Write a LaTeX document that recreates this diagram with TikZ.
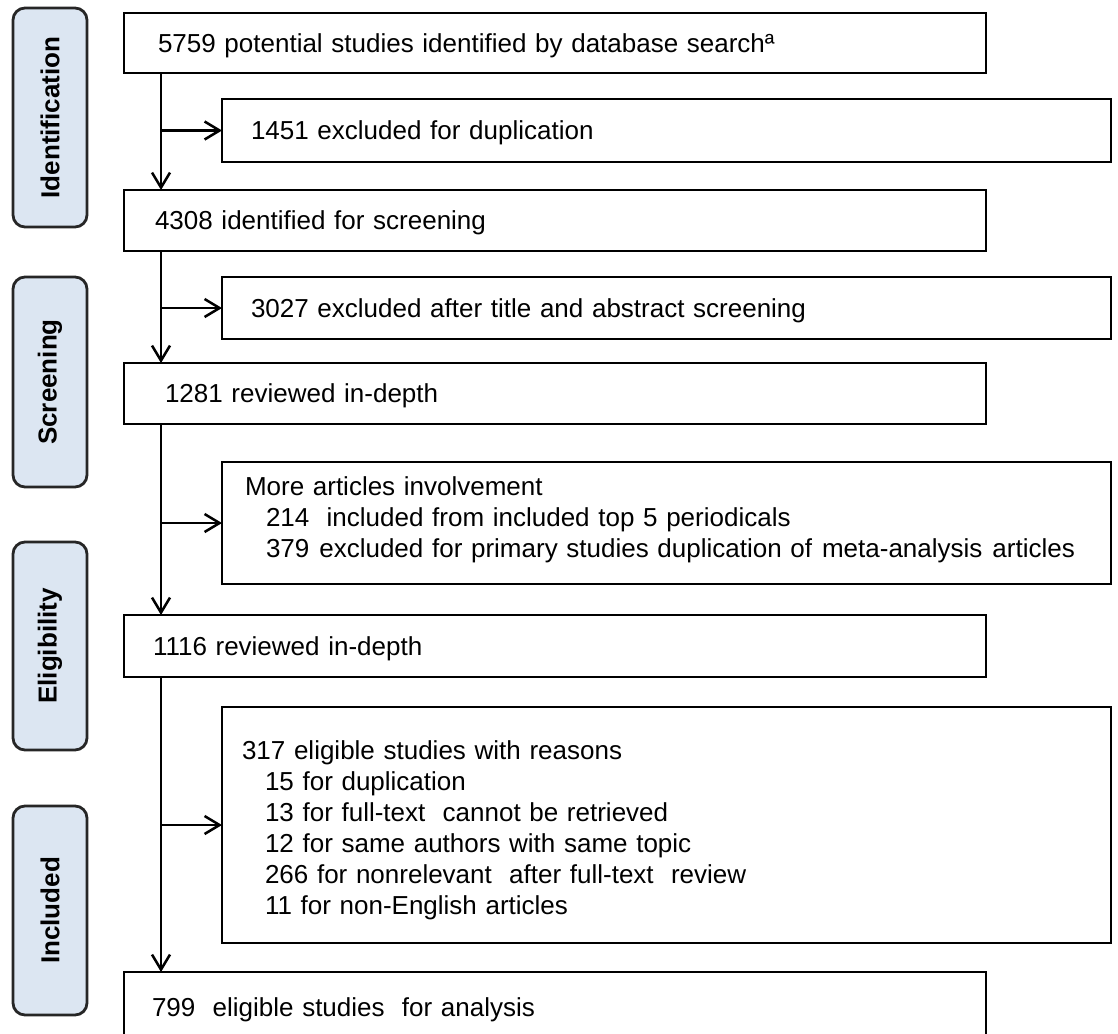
\documentclass[tikz,border=0pt]{standalone}
\usepackage{fontspec}
\setmainfont{Liberation Sans}
\usetikzlibrary{arrows.meta}
\definecolor{labfill}{HTML}{DCE6F2}
\definecolor{labdraw}{HTML}{262626}
\begin{document}
\begin{tikzpicture}[x=1pt,y=-1pt,
  box/.style={draw=black, line width=2.5pt, anchor=north west, outer sep=0pt,
    align=left, inner ysep=0pt, font=\fontsize{26}{31}\selectfont},
  one/.style={box, text height=24pt, text depth=5.4pt},
  lab/.style={draw=labdraw, fill=labfill, line width=2.8pt, rounded corners=12pt,
    rotate=90, minimum height=74pt, inner sep=0pt, outer sep=0pt,
    font=\fontsize{26}{31}\selectfont\bfseries},
  conn/.style={line width=2.5pt},
  arr/.style={conn, -{Straight Barb[length=15pt,width=18pt]}}
]
\useasboundingbox (0,0) rectangle (1118,1033);
% stage labels
\node[lab, minimum width=219pt] (L1) at (50,117.5) {Identification};
\node[lab, minimum width=210pt] (L2) at (50,382) {Screening};
\node[lab, minimum width=208pt] (L3) at (50,646) {Eligibility};
\node[lab, minimum width=209pt] (L4) at (50,910.5) {Included};
% main boxes
\node[one, inner xsep=34pt, text width=794pt, minimum height=60pt] (n1) at (124,13)
  {5759 potential studies identified by database searchª};
\node[one, inner xsep=31pt, text width=800pt, minimum height=61pt] (n2) at (124,190)
  {4308 identified for screening};
\node[one, inner xsep=41pt, text width=780pt, minimum height=61pt] (n3) at (124,363)
  {1281 reviewed in-depth};
\node[one, inner xsep=29pt, text width=804pt, minimum height=62pt] (n4) at (124,615)
  {1116 reviewed in-depth};
\node[one, inner xsep=28pt, text width=806pt, minimum height=70pt] (n5) at (124,972)
  {799\ \ eligible studies\ \ for analysis};
% side boxes
\node[one, inner xsep=29pt, text width=831pt, minimum height=63pt] (s1) at (222,99)
  {1451 excluded for duplication};
\node[one, inner xsep=29pt, text width=831pt, minimum height=62pt] (s2) at (222,277)
  {3027 excluded after title and abstract screening};
\node[box, inner xsep=23pt, text width=843pt, minimum height=122pt] (s3) at (222,462)
  {\mbox{More articles involvement}\\
   \mbox{\hspace*{21pt}214\ \ included from included top 5 periodicals}\\
   \mbox{\hspace*{21pt}379\hspace{10pt}excluded for primary studies duplication of\hspace{10pt}meta-analysis\hspace{10pt}articles}\rule[-12pt]{0pt}{12pt}};
\node[box, inner xsep=20pt, text width=849pt, minimum height=236pt] (s4) at (222,707)
  {\rule{0pt}{29pt}317 eligible studies with reasons\\
   \hspace*{23pt}15 for duplication\\
   \hspace*{23pt}13 for full-text\ \ cannot be retrieved\\
   \hspace*{23pt}12 for same authors with same topic\\
   \hspace*{23pt}266 for nonrelevant\ \ after full-text\ \ review\\
   \hspace*{23pt}11 for non-English articles};
% spine
\coordinate (vx) at (161,0);
\draw[arr] (vx |- n1.south) -- (vx |- n2.north);
\draw[arr] (vx |- n2.south) -- (vx |- n3.north);
\draw[arr] (vx |- n3.south) -- (vx |- n4.north);
\draw[arr] (vx |- n4.south) -- (vx |- n5.north);
\draw[arr] (vx |- s1.west) -- (s1.west);
\draw[arr] (vx |- s2.west) -- (s2.west);
\draw[arr] (vx |- s3.west) -- (s3.west);
\draw[arr] (vx |- s4.west) -- (s4.west);
\end{tikzpicture}
\end{document}
